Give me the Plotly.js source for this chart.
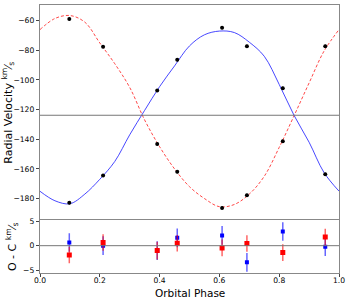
<!DOCTYPE html>
<html><head><meta charset="utf-8">
<script src="https://cdn.plot.ly/plotly-3.0.1.min.js"></script>
<style>html,body{margin:0;padding:0;background:#fff}</style>
</head><body><div id="chart" style="width:348px;height:298px"></div>
<script>
// Observed phases and radial velocities (km/s)
const obsPhase = [0.098, 0.211, 0.392, 0.459, 0.609, 0.692, 0.812, 0.954];
const rvPrimary = [-58.9, -77.5, -143.2, -162.0, -186.3, -177.8, -141.4, -77.2];
const rvSecondary = [-182.9, -164.5, -107.1, -86.4, -64.7, -77.2, -105.5, -163.6];
const rvErr = [1.0, 1.0, 1.0, 1.0, 1.0, 1.0, 1.0, 1.0];
// Residuals O - C (km/s)
const resPrimary = [-1.9, 0.65, -1.0, 0.5, -0.45, 0.45, -1.4, 1.75];
const resSecondary = [0.65, 0.0, -1.0, 1.6, 2.1, -3.4, 2.9, -0.2];
const resErrPrimary = [1.7, 1.7, 1.8, 1.7, 1.7, 1.7, 1.7, 1.7];
const resErrSecondary = [1.9, 1.9, 1.9, 1.9, 1.9, 1.9, 1.9, 1.9];
// Model curves
const modelPhase = [0.00,0.05,0.10,0.15,0.20,0.25,0.30,0.35,0.40,0.45,0.50,0.55,0.60,0.65,0.70,0.75,0.80,0.85,0.90,0.95,1.00];
const modelPrimary = [-66,-58.5,-56.5,-61,-75,-89,-105,-127,-145,-160,-172,-180,-185.5,-184,-177,-165,-145.5,-124,-102,-80.5,-66];
const modelSecondary = [-175.1,-181.5,-183.5,-177,-167,-155,-137,-120.5,-104.5,-90.5,-77,-69.5,-67,-68,-74.5,-84,-103,-124,-142,-162.5,-175];
const gamma = -123.8;
const xTicks = [0.0, 0.2, 0.4, 0.6, 0.8, 1.0];
const xTickText = ['0.0', '0.2', '0.4', '0.6', '0.8', '1.0'];

const traces = [
  {x: modelPhase, y: modelPrimary, type: 'scatter', mode: 'lines', xaxis: 'x', yaxis: 'y',
   line: {color: 'rgba(255,40,40,0.85)', width: 1, dash: '3px,2px', shape: 'spline', smoothing: 1.0}, hoverinfo: 'skip'},
  {x: modelPhase, y: modelSecondary, type: 'scatter', mode: 'lines', xaxis: 'x', yaxis: 'y',
   line: {color: 'rgba(40,40,255,0.85)', width: 1, shape: 'spline', smoothing: 1.0}, hoverinfo: 'skip'},
  {x: obsPhase, y: rvPrimary, type: 'scatter', mode: 'markers', xaxis: 'x', yaxis: 'y',
   marker: {color: '#000', size: 4, symbol: 'circle'},
   error_y: {type: 'data', array: rvErr, color: '#000', thickness: 1, width: 0}},
  {x: obsPhase, y: rvSecondary, type: 'scatter', mode: 'markers', xaxis: 'x', yaxis: 'y',
   marker: {color: '#000', size: 4, symbol: 'circle'},
   error_y: {type: 'data', array: rvErr, color: '#000', thickness: 1, width: 0}},
  {x: obsPhase, y: resSecondary, type: 'scatter', mode: 'markers', xaxis: 'x2', yaxis: 'y2',
   marker: {color: '#0000ff', size: 4, symbol: 'square'},
   error_y: {type: 'data', array: resErrSecondary, color: 'rgba(0,0,255,0.6)', thickness: 1.5, width: 0}},
  {x: obsPhase, y: resPrimary, type: 'scatter', mode: 'markers', xaxis: 'x2', yaxis: 'y2',
   marker: {color: '#ff0000', size: 5, symbol: 'square'},
   error_y: {type: 'data', array: resErrPrimary, color: 'rgba(255,0,0,0.6)', thickness: 1.5, width: 0}}
];

const axisCommon = {
  showgrid: false, zeroline: false, showline: true, linecolor: '#888', linewidth: 1.2, mirror: true,
  ticks: 'outside', ticklen: 3, tickcolor: '#444', tickwidth: 1,
  tickfont: {family: 'DejaVu Sans', size: 7.6, color: '#000'}
};

const layout = {
  width: 348, height: 298,
  margin: {l: 40, r: 9, t: 5, b: 25, pad: 0},
  paper_bgcolor: '#fff', plot_bgcolor: '#fff',
  showlegend: false,
  font: {family: 'DejaVu Sans', color: '#000'},
  xaxis: Object.assign({}, axisCommon, {domain: [0, 1], range: [0, 1], anchor: 'y', side: 'top', mirror: false,
    showticklabels: false, tickvals: xTicks, ticks: ''}),
  yaxis: Object.assign({}, axisCommon, {domain: [0.196, 1], range: [-194.8, -49.4], anchor: 'x',
    tickvals: [-180, -160, -140, -120, -100, -80, -60],
    title: {text: 'Radial Velocity <sup>km</sup>⁄<sub>s</sub>', font: {family: 'DejaVu Sans', size: 11}, standoff: 4}}),
  xaxis2: Object.assign({}, axisCommon, {domain: [0, 1], range: [0, 1], anchor: 'y2', matches: 'x',
    tickvals: xTicks, ticktext: xTickText, ticklabelstandoff: -3}),
  yaxis2: Object.assign({}, axisCommon, {domain: [0, 0.196], range: [-5.57, 5.14], anchor: 'x2',
    tickvals: [-5, 0, 5],
    title: {text: 'O - C <sup>km</sup>⁄<sub>s</sub>', font: {family: 'DejaVu Sans', size: 11}, standoff: 4}}),
  annotations: [
    {text: 'Orbital Phase', xref: 'paper', yref: 'paper', x: 0.5, y: 0, yshift: -19.5, xanchor: 'center', yanchor: 'middle',
     showarrow: false, font: {family: 'DejaVu Sans', size: 10.5, color: '#000'}}
  ],
  shapes: [
    {type: 'line', xref: 'x domain', yref: 'y', x0: 0, x1: 1, y0: gamma, y1: gamma, line: {color: '#777', width: 1}},
    {type: 'line', xref: 'x2 domain', yref: 'y2', x0: 0, x1: 1, y0: 0, y1: 0, line: {color: '#777', width: 1}}
  ]
};

Plotly.newPlot('chart', traces, layout, {staticPlot: true, displayModeBar: false});
</script></body></html>
